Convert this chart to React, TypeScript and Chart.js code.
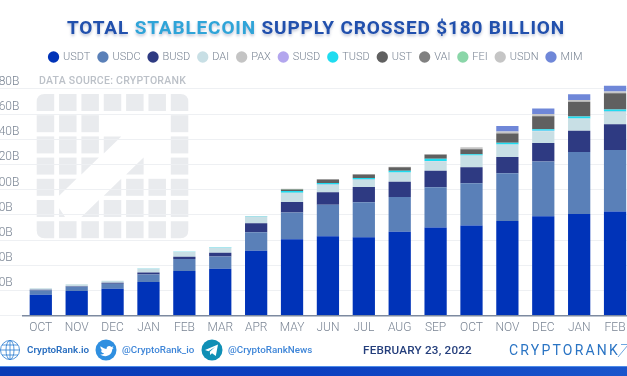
import React, { useEffect, useRef } from "react";
import { Chart, registerables } from "chart.js";

Chart.register(...registerables);

const months = ["OCT","NOV","DEC","JAN","FEB","MAR","APR","MAY","JUN","JUL","AUG","SEP","OCT","NOV","DEC","JAN","FEB"];
const USDT = [16.6,19.5,21.4,26.6,35.4,37.2,51.5,60.7,63,62.3,66.5,69.9,71.5,75.2,78.9,80.7,82.6];
const USDC = [3.4,3.5,3.9,6.1,9.5,9.8,14.7,21.1,25,27.7,27.7,31.9,33.5,37.8,43.5,49.1,48.8];
const BUSD = [0.5,0.3,0.7,1.6,1.8,2.9,7.2,8.4,10,12,12.1,13.2,12.7,12.9,14.6,16.9,20.6];
const DAI = [1.2,1.5,1.7,3.1,3.9,4.1,5,7.1,5.7,5.7,7.1,7.4,9.2,9.7,9.4,9.5,9.7];
const PAX = [0,0,0,0,0.1,0.1,0.2,0.2,0.2,0.2,0.2,0.2,0.2,0.2,0.2,0.2,0.2];
const SUSD = [0,0,0,0,0,0,0.1,0.1,0.1,0.1,0.1,0.1,0.1,0.1,0.1,0.1,0.1];
const TUSD = [0,0,0,0.1,0.2,0.3,0.3,1.3,1.3,1.2,1.3,1.8,0.8,1.3,1.3,1.5,1.6];
const UST = [0,0,0,0,0,0,0,1.2,2.7,2.8,2.7,3.2,4,7.4,10.3,11.7,12.9];
const VAI = [0,0,0,0,0,0,0,0.1,0.1,0.1,0.1,0.1,0.1,0.1,0.1,0.1,0.1];
const FEI = [0,0,0,0,0,0,0,0.4,0,0,0,0,0,0,0,0,0];
const USDN = [0,0,0,0,0,0,0,0.2,0.3,0.3,0.3,0.5,1.5,1.4,1.7,1.3,1.3];
const MIM = [0,0,0,0,0,0,0,0,0,0,0,0,0,4.4,4.4,4.7,4.5];

const series: [string, number[], string][] = [
  ["USDT", USDT, "#0033b8"],
  ["USDC", USDC, "#5a80b8"],
  ["BUSD", BUSD, "#2e3a82"],
  ["DAI", DAI, "#c8dfe5"],
  ["PAX", PAX, "#c4c4c4"],
  ["SUSD", SUSD, "#b3a6ee"],
  ["TUSD", TUSD, "#1fdcf0"],
  ["UST", UST, "#606060"],
  ["VAI", VAI, "#808080"],
  ["FEI", FEI, "#8ad6a8"],
  ["USDN", USDN, "#c5c5c5"],
  ["MIM", MIM, "#6f87d8"],
];

// logo mark cells: row, column, shape
const logoCells: [number, number, string][] = [
  [0,0,"tl"],[0,1,"f"],[0,2,"f"],[0,3,"f"],[0,4,"f"],[0,5,"f"],[0,6,"tr"],
  [1,0,"f"],[1,1,"f"],[1,2,"f"],[1,6,"f"],
  [2,0,"f"],[2,1,"f"],[2,2,"f"],[2,3,"u"],[2,6,"f"],
  [3,0,"f"],[3,1,"f"],[3,2,"u"],[3,4,"d"],[3,6,"f"],
  [4,0,"f"],[4,1,"u"],[4,3,"d"],[4,4,"f"],[4,5,"f"],[4,6,"f"],
  [5,0,"f"],[5,1,"s"],[5,2,"d"],[5,3,"f"],[5,4,"f"],[5,5,"f"],[5,6,"f"],
  [6,0,"bl"],[6,1,"f"],[6,2,"f"],[6,3,"f"],[6,4,"f"],[6,5,"f"],[6,6,"br"],
];

function cellPath(r: number, c: number, kind: string): string {
  const w = 17.5, h = 17;
  const x = 36.7 + c * 22.35, y = 94 + r * 21.2;
  const R = 8;
  const X = x + w, Y = y + h;
  switch (kind) {
    case "u": return `M${x} ${y}H${X}L${x} ${Y}Z`;
    case "d": return `M${X} ${y}V${Y}H${x}Z`;
    case "s": return `M${x} ${y + 8}L${x + 6} ${Y}H${x}Z`;
    case "tl": return `M${x + R} ${y}H${X}V${Y}H${x}V${y + R}Q${x} ${y} ${x + R} ${y}Z`;
    case "tr": return `M${x} ${y}H${X - R}Q${X} ${y} ${X} ${y + R}V${Y}H${x}Z`;
    case "bl": return `M${x} ${y}H${X}V${Y}H${x + R}Q${x} ${Y} ${x} ${Y - R}Z`;
    case "br": return `M${x} ${y}H${X}V${Y - R}Q${X} ${Y} ${X - R} ${Y}H${x}Z`;
    default: return `M${x} ${y}H${X}V${Y}H${x}Z`;
  }
}

const CANVAS_OFFSET = 15;

function abs(left: number, top: number, extra: React.CSSProperties = {}): React.CSSProperties {
  return { position: "absolute", left, top, whiteSpace: "nowrap", ...extra };
}

const legendNudge = {
  id: "legendNudge",
  afterLayout(chart: any) {
    chart.legend.left += 3.5;
    chart.legend.right += 3.5;
  },
};

export default function App() {
  const ref = useRef<HTMLCanvasElement>(null);
  useEffect(() => {
    const chart = new Chart(ref.current!, {
      type: "bar",
      plugins: [legendNudge],
      data: {
        labels: months,
        datasets: series.map(([label, data, color]) => ({
          label,
          data,
          backgroundColor: color,
          borderWidth: 0,
          categoryPercentage: 1,
          barPercentage: 0.62,
        })),
      },
      options: {
        responsive: false,
        animation: false,
        layout: { padding: { left: 7, top: 43, bottom: 36, right: 0 } },
        plugins: {
          tooltip: { enabled: false },
          legend: {
            position: "top",
            labels: {
              usePointStyle: true,
              pointStyle: "circle",
              boxWidth: 8,
              boxHeight: 8,
              padding: 8.5,
              color: "#7a8594",
              font: { family: "Roboto", size: 11, weight: "300" },
            },
          },
        },
        scales: {
          x: {
            stacked: true,
            grid: { display: false, drawTicks: false },
            border: { color: "#7d8aa0", width: 1.5 },
            ticks: { color: "#7a8594", font: { family: "Roboto", size: 12, weight: "300" }, padding: 5, maxRotation: 0, autoSkip: false },
          },
          y: {
            stacked: true,
            min: 0,
            max: 193,
            afterFit: (s: any) => { s.width = 30.85; },
            border: { display: false },
            grid: { color: "#eef0f3", lineWidth: 1, tickLength: 38, tickColor: "#eef0f3" },
            ticks: {
              stepSize: 20,
              autoSkip: false,
              includeBounds: false,
              crossAlign: "far",
              color: "#7a8594",
              font: { family: "Roboto", size: 12, weight: "300", lineHeight: 1.17 },
              callback: (v: any) => (v === 0 ? "" : [`${v}B`, ""]),
            },
          },
        },
      },
    });
    return () => chart.destroy();
  }, []);

  const font = "Roboto, sans-serif";
  return (
    <div style={{ position: "fixed", inset: 0, overflow: "hidden", background: "#fff", fontFamily: font }}>
      <svg width={627} height={376} style={{ position: "absolute", left: 0, top: 0 }}>
        {logoCells.map(([r, c, k]) => (
          <path key={`${r}-${c}`} d={cellPath(r, c, k)} fill="#e9ebee" />
        ))}
      </svg>
      <canvas ref={ref} width={648} height={376} style={{ position: "absolute", left: -CANVAS_OFFSET, top: 0, width: 648, height: 376 }} />
      <div style={abs(67, 15, { fontSize: 19, fontWeight: 700, letterSpacing: 0.85, color: "#2150ad", textShadow: "0 2px 3px rgba(40,60,120,.3)", lineHeight: "26px" })}>
        TOTAL <span style={{ color: "#2fa4d8" }}>STABLECOIN</span> SUPPLY CROSSED $180 BILLION
      </div>
      <div style={abs(39, 74, { fontSize: 10.5, fontWeight: 500, color: "#bcc1c8", lineHeight: "13px", letterSpacing: 0.25 })}>DATA SOURCE: CRYPTORANK</div>
      <svg width={627} height={40} style={{ position: "absolute", left: 0, top: 332 }}>
        <circle cx={10} cy={18} r={9.5} fill="none" stroke="#2a7bd0" strokeWidth={0.8} />
        <ellipse cx={10} cy={18} rx={4} ry={9.5} fill="none" stroke="#2a7bd0" strokeWidth={0.8} />
        <path d="M0.500 18H19.500M2 13H18M2 23H18M10 8.500V27.500" stroke="#2a7bd0" strokeWidth={0.8} />
        <circle cx={106} cy={18} r={10.5} fill="#2f8fe0" />
        <path d="M100 14c3 2 5 3 6.500 3 0-3 3-4 5-2l2-.7-1.200 2 1.400-.2-1.500 1.500c0 5-6 9-12 5 2 0 3-.5 4-1.200-2-.4-3-1.500-3.300-3h1.500c-1.500-1-2.200-2.400-1.900-4.400z" fill="#fff" />
        <circle cx={212} cy={18} r={10.5} fill="#0f8fb5" />
        <path d="M205 18l13-5.500-2.200 11.500-3.800-2.800-1.800 1.800-.4-3.200 5.200-4.800-6.500 4.200z" fill="#fff" />
        <path d="M618 25L628 13M621 12.500H628V20" fill="none" stroke="#5f9ddc" strokeWidth={0.9} />
      </svg>
      <div style={abs(27, 343, { fontSize: 9.8, fontWeight: 600, color: "#2a6fc0", lineHeight: "14px" })}>CryptoRank.io</div>
      <div style={abs(122, 343, { fontSize: 9.8, fontWeight: 500, color: "#3f86d8", lineHeight: "14px" })}>@CryptoRank_io</div>
      <div style={abs(228, 343, { fontSize: 9.8, fontWeight: 500, color: "#3f86d8", lineHeight: "14px" })}>@CryptoRankNews</div>
      <div style={abs(363, 343, { fontSize: 11.7, fontWeight: 500, color: "#253f7c", letterSpacing: 0.2, lineHeight: "14px" })}>FEBRUARY 23, 2022</div>
      <div style={abs(509, 342, { fontSize: 14, fontWeight: 400, color: "#2a74c4", letterSpacing: 2.2, lineHeight: "16px" })}>CRYPTORANK</div>
      <div style={{ position: "absolute", left: 0, top: 366, width: 627, height: 10, background: "linear-gradient(90deg,#0a3bb5,#0c3fc0 50%,#1a55cc)", borderTop: "1px solid #4d8be8", boxSizing: "border-box" }} />
    </div>
  );
}
